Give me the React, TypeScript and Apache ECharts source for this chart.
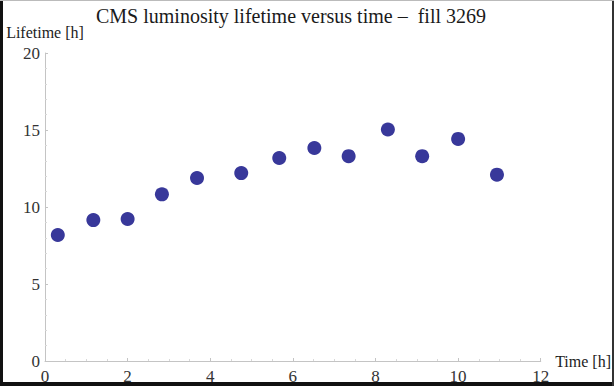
import React, { useEffect, useRef } from "react";
import * as echarts from "echarts";

const timeHours = [0.31, 1.17, 2.0, 2.83, 3.68, 4.75, 5.67, 6.52, 7.35, 8.3, 9.13, 10.0, 10.94];
const lifetimeHours = [8.18, 9.15, 9.22, 10.82, 11.88, 12.2, 13.18, 13.83, 13.3, 15.03, 13.3, 14.42, 12.1];
const titleText = "CMS luminosity lifetime versus time \u2013  fill 3269";
const xName = "Time [h]";
const yName = "Lifetime [h]";

export default function App() {
  const ref = useRef<HTMLDivElement>(null);
  useEffect(() => {
    if (!ref.current) return;
    const chart = echarts.init(ref.current, undefined, { renderer: "svg" });
    const font = "'Liberation Serif', 'Times New Roman', serif";
    const data = timeHours.map((t, i) => [t, lifetimeHours[i]]);
    chart.setOption({
      animation: false,
      backgroundColor: "#ffffff",
      title: {
        text: titleText,
        left: 91,
        top: 1,
        textStyle: { fontFamily: font, fontSize: 20, fontWeight: "normal", color: "#1a1a1a" },
      },
      grid: { left: 45, top: 53, right: 71, bottom: 28, containLabel: false },
      xAxis: {
        type: "value",
        min: 0,
        max: 12,
        interval: 2,
        name: xName,
        nameLocation: "end",
        nameGap: 14,
        nameTextStyle: { fontFamily: font, fontSize: 16, color: "#222" },
        axisLine: { show: true, lineStyle: { color: "#c4c4c4", width: 1 } },
        axisTick: { show: true, inside: true, length: 3, lineStyle: { color: "#c4c4c4" } },
        minorTick: { show: true, splitNumber: 4, length: 2, lineStyle: { color: "#d8d8d8" } },
        splitLine: { show: false },
        axisLabel: { fontFamily: font, fontSize: 17, color: "#333", margin: 7 },
      },
      yAxis: {
        type: "value",
        min: 0,
        max: 20,
        interval: 5,
        name: yName,
        nameLocation: "end",
        nameGap: 13,
        nameTextStyle: { fontFamily: font, fontSize: 16, color: "#222" },
        axisLine: { show: true, lineStyle: { color: "#c4c4c4", width: 1 } },
        axisTick: { show: true, inside: true, length: 3, lineStyle: { color: "#c4c4c4" } },
        minorTick: { show: true, splitNumber: 5, length: 2, lineStyle: { color: "#d8d8d8" } },
        splitLine: { show: false },
        axisLabel: { fontFamily: font, fontSize: 17, color: "#333", margin: 5 },
      },
      series: [
        {
          type: "scatter",
          data,
          symbol: "circle",
          symbolSize: 14,
          itemStyle: { color: "#38389a", opacity: 1 },
        },
      ],
      graphic: [
        { type: "rect", shape: { x: 0, y: 0, width: 3, height: 386 }, style: { fill: "#111" }, silent: true },
        { type: "rect", shape: { x: 0, y: 382, width: 614, height: 4 }, style: { fill: "#111" }, silent: true },
        { type: "rect", shape: { x: 612, y: 0, width: 2, height: 386 }, style: { fill: "#333" }, silent: true },
        { type: "rect", shape: { x: 0, y: 0, width: 614, height: 1 }, style: { fill: "#bbb" }, silent: true },
      ],
    });
    return () => chart.dispose();
  }, []);
  return (
    <div
      ref={ref}
      style={{ position: "fixed", left: 0, top: 0, width: 614, height: 389, background: "#fff" }}
    />
  );
}
